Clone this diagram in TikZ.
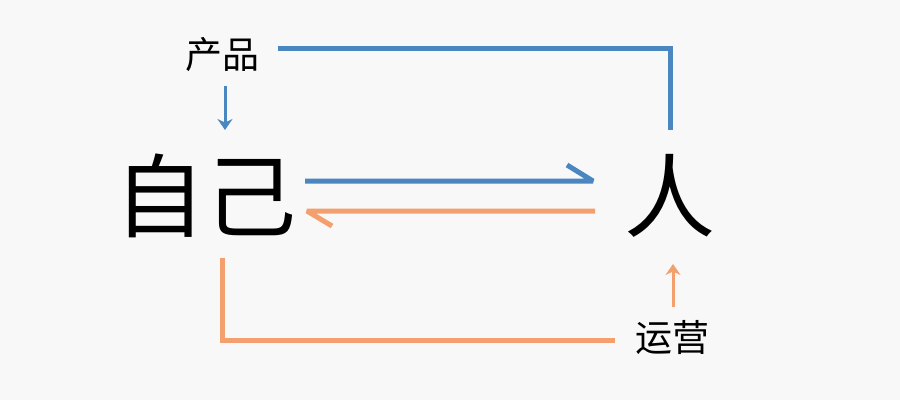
\documentclass[tikz,border=0pt]{standalone}
\usepackage{fontspec}
\setmainfont{Noto Sans CJK SC}
\usetikzlibrary{arrows.meta}
\definecolor{bgc}{HTML}{F8F8F8}
\definecolor{blu}{HTML}{4A86C0}
\definecolor{org}{HTML}{F4A06E}
\tikzset{
  big/.style={inner sep=0pt, font=\fontsize{91}{96}\selectfont},
  small/.style={inner sep=0pt, font=\fontsize{37}{40}\selectfont},
  thick line/.style={line width=5pt},
  thin arrow/.style={line width=3pt, -{Stealth[length=11pt,width=15pt]}},
}
\begin{document}
\begin{tikzpicture}[x=1pt,y=-1pt]
\fill[bgc] (0,0) rectangle (900,400);
\useasboundingbox (0,0) rectangle (900,400);
\node[big] (self) at (205,196) {自己};
\node[big] (ren) at (670,196) {人};
\node[small] (prod) at (222,55) {产品};
\node[small] (ops) at (672,338) {运营};
% blue top path
\coordinate (bt1) at (278,48);
\coordinate (bt2) at (670,48);
\coordinate (bt3) at (670,130);
\draw[blu, thick line, line join=miter] (bt1) -- (bt2) -- (bt3);
\coordinate (pa1) at (225,86);
\coordinate (pa2) at (225,130);
\draw[blu, thin arrow] (pa1) -- (pa2);
% middle arrows
\coordinate (m1) at (305,181);
\coordinate (m2) at (593,181);
\coordinate (m3) at (567,165);
\draw[blu, thick line, line join=bevel] (m1) -- (m2) -- (m3);
\coordinate (n1) at (595,211);
\coordinate (n2) at (307,211);
\coordinate (n3) at (332,226);
\draw[org, thick line, line join=bevel] (n1) -- (n2) -- (n3);
% orange bottom path
\coordinate (ob1) at (222,258);
\coordinate (ob2) at (222,340);
\coordinate (ob3) at (615,340);
\draw[org, thick line, line join=miter] (ob1) -- (ob2) -- (ob3);
\coordinate (oa1) at (673,307);
\coordinate (oa2) at (673,264);
\draw[org, thin arrow] (oa1) -- (oa2);
\end{tikzpicture}
\end{document}
